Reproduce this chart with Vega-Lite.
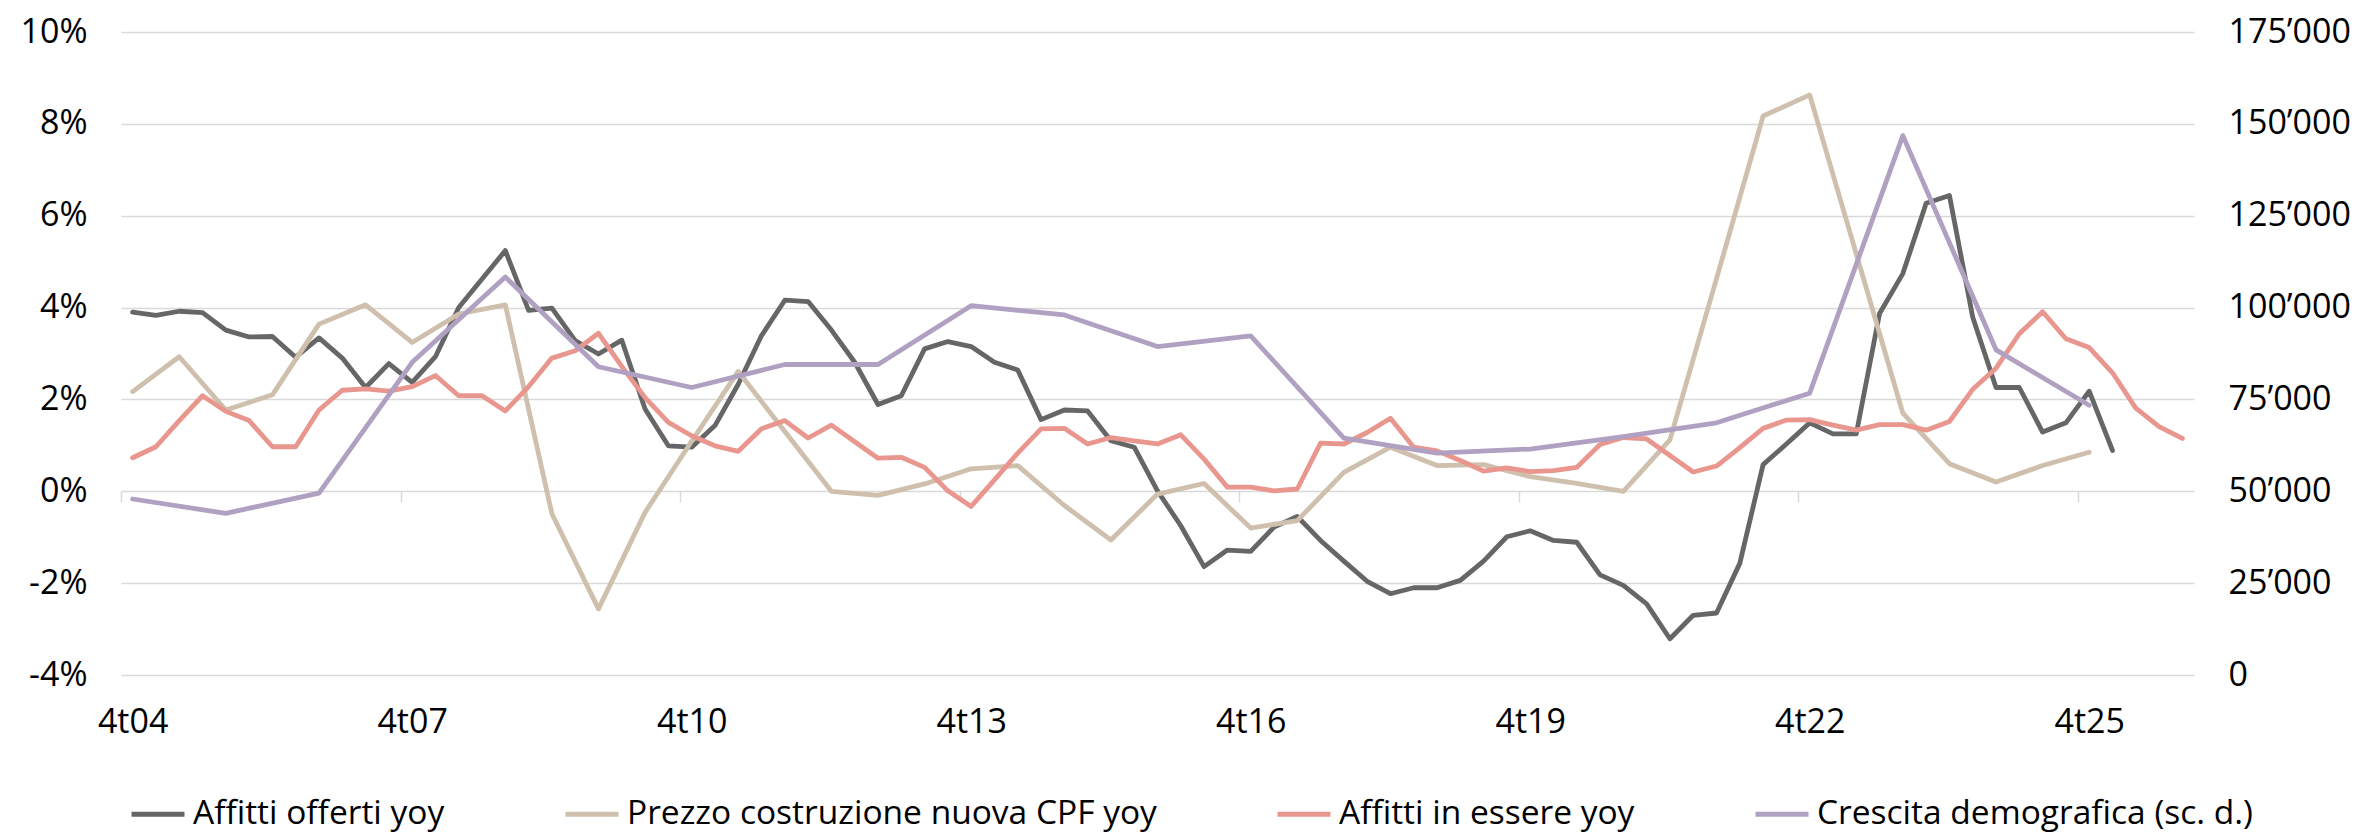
{
  "$schema": "https://vega.github.io/schema/vega-lite/v6.json",
  "width": 2073,
  "height": 643,
  "autosize": {"type": "none"},
  "padding": {"left": 121, "top": 32, "right": 172, "bottom": 162},
  "background": "white",
  "config": {
    "view": {"stroke": null},
    "font": "Open Sans",
    "axis": {"labelFont": "Open Sans", "labelFontSize": 34, "labelColor": "#000000", "titleFont": "Open Sans"},
    "legend": {"labelFont": "Open Sans"}
  },
  "datasets": {
    "left": [
      {"t":"4t04","s":"Affitti offerti yoy","v":3.90},{"t":"1t05","s":"Affitti offerti yoy","v":3.83},{"t":"2t05","s":"Affitti offerti yoy","v":3.92},{"t":"3t05","s":"Affitti offerti yoy","v":3.89},{"t":"4t05","s":"Affitti offerti yoy","v":3.51},
      {"t":"1t06","s":"Affitti offerti yoy","v":3.36},{"t":"2t06","s":"Affitti offerti yoy","v":3.37},{"t":"3t06","s":"Affitti offerti yoy","v":2.92},{"t":"4t06","s":"Affitti offerti yoy","v":3.34},
      {"t":"1t07","s":"Affitti offerti yoy","v":2.90},{"t":"2t07","s":"Affitti offerti yoy","v":2.26},{"t":"3t07","s":"Affitti offerti yoy","v":2.78},{"t":"4t07","s":"Affitti offerti yoy","v":2.37},
      {"t":"1t08","s":"Affitti offerti yoy","v":2.93},{"t":"2t08","s":"Affitti offerti yoy","v":4.00},{"t":"3t08","s":"Affitti offerti yoy","v":4.62},{"t":"4t08","s":"Affitti offerti yoy","v":5.24},
      {"t":"1t09","s":"Affitti offerti yoy","v":3.94},{"t":"2t09","s":"Affitti offerti yoy","v":3.99},{"t":"3t09","s":"Affitti offerti yoy","v":3.28},{"t":"4t09","s":"Affitti offerti yoy","v":2.99},
      {"t":"1t10","s":"Affitti offerti yoy","v":3.29},{"t":"2t10","s":"Affitti offerti yoy","v":1.79},{"t":"3t10","s":"Affitti offerti yoy","v":0.99},{"t":"4t10","s":"Affitti offerti yoy","v":0.96},
      {"t":"1t11","s":"Affitti offerti yoy","v":1.43},{"t":"2t11","s":"Affitti offerti yoy","v":2.33},{"t":"3t11","s":"Affitti offerti yoy","v":3.39},{"t":"4t11","s":"Affitti offerti yoy","v":4.16},
      {"t":"1t12","s":"Affitti offerti yoy","v":4.13},{"t":"2t12","s":"Affitti offerti yoy","v":3.51},{"t":"3t12","s":"Affitti offerti yoy","v":2.81},{"t":"4t12","s":"Affitti offerti yoy","v":1.89},
      {"t":"1t13","s":"Affitti offerti yoy","v":2.08},{"t":"2t13","s":"Affitti offerti yoy","v":3.10},{"t":"3t13","s":"Affitti offerti yoy","v":3.26},{"t":"4t13","s":"Affitti offerti yoy","v":3.15},
      {"t":"1t14","s":"Affitti offerti yoy","v":2.81},{"t":"2t14","s":"Affitti offerti yoy","v":2.64},{"t":"3t14","s":"Affitti offerti yoy","v":1.56},{"t":"4t14","s":"Affitti offerti yoy","v":1.77},
      {"t":"1t15","s":"Affitti offerti yoy","v":1.75},{"t":"2t15","s":"Affitti offerti yoy","v":1.10},{"t":"3t15","s":"Affitti offerti yoy","v":0.96},{"t":"4t15","s":"Affitti offerti yoy","v":0.01},
      {"t":"1t16","s":"Affitti offerti yoy","v":-0.75},{"t":"2t16","s":"Affitti offerti yoy","v":-1.64},{"t":"3t16","s":"Affitti offerti yoy","v":-1.28},{"t":"4t16","s":"Affitti offerti yoy","v":-1.31},
      {"t":"1t17","s":"Affitti offerti yoy","v":-0.78},{"t":"2t17","s":"Affitti offerti yoy","v":-0.55},{"t":"3t17","s":"Affitti offerti yoy","v":-1.07},{"t":"4t17","s":"Affitti offerti yoy","v":-1.52},
      {"t":"1t18","s":"Affitti offerti yoy","v":-1.96},{"t":"2t18","s":"Affitti offerti yoy","v":-2.23},{"t":"3t18","s":"Affitti offerti yoy","v":-2.10},{"t":"4t18","s":"Affitti offerti yoy","v":-2.10},
      {"t":"1t19","s":"Affitti offerti yoy","v":-1.94},{"t":"2t19","s":"Affitti offerti yoy","v":-1.52},{"t":"3t19","s":"Affitti offerti yoy","v":-0.99},{"t":"4t19","s":"Affitti offerti yoy","v":-0.86},
      {"t":"1t20","s":"Affitti offerti yoy","v":-1.07},{"t":"2t20","s":"Affitti offerti yoy","v":-1.11},{"t":"3t20","s":"Affitti offerti yoy","v":-1.82},{"t":"4t20","s":"Affitti offerti yoy","v":-2.05},
      {"t":"1t21","s":"Affitti offerti yoy","v":-2.45},{"t":"2t21","s":"Affitti offerti yoy","v":-3.21},{"t":"3t21","s":"Affitti offerti yoy","v":-2.70},{"t":"4t21","s":"Affitti offerti yoy","v":-2.65},
      {"t":"1t22","s":"Affitti offerti yoy","v":-1.57},{"t":"2t22","s":"Affitti offerti yoy","v":0.58},{"t":"3t22","s":"Affitti offerti yoy","v":1.03},{"t":"4t22","s":"Affitti offerti yoy","v":1.49},
      {"t":"1t23","s":"Affitti offerti yoy","v":1.25},{"t":"2t23","s":"Affitti offerti yoy","v":1.25},{"t":"3t23","s":"Affitti offerti yoy","v":3.87},{"t":"4t23","s":"Affitti offerti yoy","v":4.74},
      {"t":"1t24","s":"Affitti offerti yoy","v":6.27},{"t":"2t24","s":"Affitti offerti yoy","v":6.44},{"t":"3t24","s":"Affitti offerti yoy","v":3.79},{"t":"4t24","s":"Affitti offerti yoy","v":2.26},
      {"t":"1t25","s":"Affitti offerti yoy","v":2.26},{"t":"2t25","s":"Affitti offerti yoy","v":1.29},{"t":"3t25","s":"Affitti offerti yoy","v":1.49},{"t":"4t25","s":"Affitti offerti yoy","v":2.18},
      {"t":"1t26","s":"Affitti offerti yoy","v":0.89},

      {"t":"4t04","s":"Prezzo costruzione nuova CPF yoy","v":2.17},{"t":"2t05","s":"Prezzo costruzione nuova CPF yoy","v":2.93},{"t":"4t05","s":"Prezzo costruzione nuova CPF yoy","v":1.77},
      {"t":"2t06","s":"Prezzo costruzione nuova CPF yoy","v":2.10},{"t":"4t06","s":"Prezzo costruzione nuova CPF yoy","v":3.64},{"t":"2t07","s":"Prezzo costruzione nuova CPF yoy","v":4.06},
      {"t":"4t07","s":"Prezzo costruzione nuova CPF yoy","v":3.24},{"t":"2t08","s":"Prezzo costruzione nuova CPF yoy","v":3.86},{"t":"4t08","s":"Prezzo costruzione nuova CPF yoy","v":4.06},
      {"t":"2t09","s":"Prezzo costruzione nuova CPF yoy","v":-0.49},{"t":"4t09","s":"Prezzo costruzione nuova CPF yoy","v":-2.56},{"t":"2t10","s":"Prezzo costruzione nuova CPF yoy","v":-0.46},
      {"t":"4t10","s":"Prezzo costruzione nuova CPF yoy","v":1.09},{"t":"2t11","s":"Prezzo costruzione nuova CPF yoy","v":2.61},{"t":"4t11","s":"Prezzo costruzione nuova CPF yoy","v":1.30},
      {"t":"2t12","s":"Prezzo costruzione nuova CPF yoy","v":0.00},{"t":"4t12","s":"Prezzo costruzione nuova CPF yoy","v":-0.09},{"t":"2t13","s":"Prezzo costruzione nuova CPF yoy","v":0.16},
      {"t":"4t13","s":"Prezzo costruzione nuova CPF yoy","v":0.49},{"t":"2t14","s":"Prezzo costruzione nuova CPF yoy","v":0.56},{"t":"4t14","s":"Prezzo costruzione nuova CPF yoy","v":-0.31},
      {"t":"2t15","s":"Prezzo costruzione nuova CPF yoy","v":-1.06},{"t":"4t15","s":"Prezzo costruzione nuova CPF yoy","v":-0.06},{"t":"2t16","s":"Prezzo costruzione nuova CPF yoy","v":0.17},
      {"t":"4t16","s":"Prezzo costruzione nuova CPF yoy","v":-0.80},{"t":"2t17","s":"Prezzo costruzione nuova CPF yoy","v":-0.64},{"t":"4t17","s":"Prezzo costruzione nuova CPF yoy","v":0.41},
      {"t":"2t18","s":"Prezzo costruzione nuova CPF yoy","v":0.96},{"t":"4t18","s":"Prezzo costruzione nuova CPF yoy","v":0.56},{"t":"2t19","s":"Prezzo costruzione nuova CPF yoy","v":0.58},
      {"t":"4t19","s":"Prezzo costruzione nuova CPF yoy","v":0.32},{"t":"2t20","s":"Prezzo costruzione nuova CPF yoy","v":0.17},{"t":"4t20","s":"Prezzo costruzione nuova CPF yoy","v":0.00},
      {"t":"2t21","s":"Prezzo costruzione nuova CPF yoy","v":1.12},{"t":"4t21","s":"Prezzo costruzione nuova CPF yoy","v":4.63},{"t":"2t22","s":"Prezzo costruzione nuova CPF yoy","v":8.17},
      {"t":"4t22","s":"Prezzo costruzione nuova CPF yoy","v":8.63},{"t":"2t23","s":"Prezzo costruzione nuova CPF yoy","v":5.17},{"t":"4t23","s":"Prezzo costruzione nuova CPF yoy","v":1.70},
      {"t":"2t24","s":"Prezzo costruzione nuova CPF yoy","v":0.60},{"t":"4t24","s":"Prezzo costruzione nuova CPF yoy","v":0.20},{"t":"2t25","s":"Prezzo costruzione nuova CPF yoy","v":0.56},
      {"t":"4t25","s":"Prezzo costruzione nuova CPF yoy","v":0.85},

      {"t":"4t04","s":"Affitti in essere yoy","v":0.73},{"t":"1t05","s":"Affitti in essere yoy","v":0.97},{"t":"2t05","s":"Affitti in essere yoy","v":1.54},{"t":"3t05","s":"Affitti in essere yoy","v":2.08},{"t":"4t05","s":"Affitti in essere yoy","v":1.74},
      {"t":"1t06","s":"Affitti in essere yoy","v":1.54},{"t":"2t06","s":"Affitti in essere yoy","v":0.97},{"t":"3t06","s":"Affitti in essere yoy","v":0.97},{"t":"4t06","s":"Affitti in essere yoy","v":1.77},
      {"t":"1t07","s":"Affitti in essere yoy","v":2.20},{"t":"2t07","s":"Affitti in essere yoy","v":2.23},{"t":"3t07","s":"Affitti in essere yoy","v":2.18},{"t":"4t07","s":"Affitti in essere yoy","v":2.28},
      {"t":"1t08","s":"Affitti in essere yoy","v":2.52},{"t":"2t08","s":"Affitti in essere yoy","v":2.08},{"t":"3t08","s":"Affitti in essere yoy","v":2.08},{"t":"4t08","s":"Affitti in essere yoy","v":1.75},
      {"t":"1t09","s":"Affitti in essere yoy","v":2.28},{"t":"2t09","s":"Affitti in essere yoy","v":2.90},{"t":"3t09","s":"Affitti in essere yoy","v":3.06},{"t":"4t09","s":"Affitti in essere yoy","v":3.44},
      {"t":"1t10","s":"Affitti in essere yoy","v":2.72},{"t":"2t10","s":"Affitti in essere yoy","v":2.04},{"t":"3t10","s":"Affitti in essere yoy","v":1.50},{"t":"4t10","s":"Affitti in essere yoy","v":1.21},
      {"t":"1t11","s":"Affitti in essere yoy","v":0.99},{"t":"2t11","s":"Affitti in essere yoy","v":0.87},{"t":"3t11","s":"Affitti in essere yoy","v":1.36},{"t":"4t11","s":"Affitti in essere yoy","v":1.54},
      {"t":"1t12","s":"Affitti in essere yoy","v":1.16},{"t":"2t12","s":"Affitti in essere yoy","v":1.44},{"t":"3t12","s":"Affitti in essere yoy","v":1.08},{"t":"4t12","s":"Affitti in essere yoy","v":0.72},
      {"t":"1t13","s":"Affitti in essere yoy","v":0.74},{"t":"2t13","s":"Affitti in essere yoy","v":0.52},{"t":"3t13","s":"Affitti in essere yoy","v":0.01},{"t":"4t13","s":"Affitti in essere yoy","v":-0.33},
      {"t":"1t14","s":"Affitti in essere yoy","v":0.25},{"t":"2t14","s":"Affitti in essere yoy","v":0.83},{"t":"3t14","s":"Affitti in essere yoy","v":1.36},{"t":"4t14","s":"Affitti in essere yoy","v":1.37},
      {"t":"1t15","s":"Affitti in essere yoy","v":1.03},{"t":"2t15","s":"Affitti in essere yoy","v":1.17},{"t":"3t15","s":"Affitti in essere yoy","v":1.10},{"t":"4t15","s":"Affitti in essere yoy","v":1.03},
      {"t":"1t16","s":"Affitti in essere yoy","v":1.23},{"t":"2t16","s":"Affitti in essere yoy","v":0.70},{"t":"3t16","s":"Affitti in essere yoy","v":0.09},{"t":"4t16","s":"Affitti in essere yoy","v":0.09},
      {"t":"1t17","s":"Affitti in essere yoy","v":0.01},{"t":"2t17","s":"Affitti in essere yoy","v":0.05},{"t":"3t17","s":"Affitti in essere yoy","v":1.05},{"t":"4t17","s":"Affitti in essere yoy","v":1.03},
      {"t":"1t18","s":"Affitti in essere yoy","v":1.28},{"t":"2t18","s":"Affitti in essere yoy","v":1.59},{"t":"3t18","s":"Affitti in essere yoy","v":0.96},{"t":"4t18","s":"Affitti in essere yoy","v":0.88},
      {"t":"1t19","s":"Affitti in essere yoy","v":0.67},{"t":"2t19","s":"Affitti in essere yoy","v":0.44},{"t":"3t19","s":"Affitti in essere yoy","v":0.51},{"t":"4t19","s":"Affitti in essere yoy","v":0.43},
      {"t":"1t20","s":"Affitti in essere yoy","v":0.45},{"t":"2t20","s":"Affitti in essere yoy","v":0.52},{"t":"3t20","s":"Affitti in essere yoy","v":1.02},{"t":"4t20","s":"Affitti in essere yoy","v":1.17},
      {"t":"1t21","s":"Affitti in essere yoy","v":1.14},{"t":"2t21","s":"Affitti in essere yoy","v":0.78},{"t":"3t21","s":"Affitti in essere yoy","v":0.42},{"t":"4t21","s":"Affitti in essere yoy","v":0.55},
      {"t":"1t22","s":"Affitti in essere yoy","v":0.95},{"t":"2t22","s":"Affitti in essere yoy","v":1.37},{"t":"3t22","s":"Affitti in essere yoy","v":1.55},{"t":"4t22","s":"Affitti in essere yoy","v":1.56},
      {"t":"1t23","s":"Affitti in essere yoy","v":1.44},{"t":"2t23","s":"Affitti in essere yoy","v":1.33},{"t":"3t23","s":"Affitti in essere yoy","v":1.45},{"t":"4t23","s":"Affitti in essere yoy","v":1.45},
      {"t":"1t24","s":"Affitti in essere yoy","v":1.33},{"t":"2t24","s":"Affitti in essere yoy","v":1.52},{"t":"3t24","s":"Affitti in essere yoy","v":2.22},{"t":"4t24","s":"Affitti in essere yoy","v":2.68},
      {"t":"1t25","s":"Affitti in essere yoy","v":3.43},{"t":"2t25","s":"Affitti in essere yoy","v":3.91},{"t":"3t25","s":"Affitti in essere yoy","v":3.32},{"t":"4t25","s":"Affitti in essere yoy","v":3.13},
      {"t":"1t26","s":"Affitti in essere yoy","v":2.58},{"t":"2t26","s":"Affitti in essere yoy","v":1.81},{"t":"3t26","s":"Affitti in essere yoy","v":1.41},{"t":"4t26","s":"Affitti in essere yoy","v":1.15}
    ],
    "pop": [
      {"t":"4t04","s":"Crescita demografica (sc. d.)","p":47900},{"t":"4t05","s":"Crescita demografica (sc. d.)","p":44000},{"t":"4t06","s":"Crescita demografica (sc. d.)","p":49500},
      {"t":"4t07","s":"Crescita demografica (sc. d.)","p":85100},{"t":"4t08","s":"Crescita demografica (sc. d.)","p":108300},{"t":"4t09","s":"Crescita demografica (sc. d.)","p":83900},
      {"t":"4t10","s":"Crescita demografica (sc. d.)","p":78250},{"t":"4t11","s":"Crescita demografica (sc. d.)","p":84500},{"t":"4t12","s":"Crescita demografica (sc. d.)","p":84500},
      {"t":"4t13","s":"Crescita demografica (sc. d.)","p":100500},{"t":"4t14","s":"Crescita demografica (sc. d.)","p":98000},{"t":"4t15","s":"Crescita demografica (sc. d.)","p":89400},
      {"t":"4t16","s":"Crescita demografica (sc. d.)","p":92300},{"t":"4t17","s":"Crescita demografica (sc. d.)","p":64500},{"t":"4t18","s":"Crescita demografica (sc. d.)","p":60400},
      {"t":"4t19","s":"Crescita demografica (sc. d.)","p":61500},{"t":"4t20","s":"Crescita demografica (sc. d.)","p":64900},{"t":"4t21","s":"Crescita demografica (sc. d.)","p":68650},
      {"t":"4t22","s":"Crescita demografica (sc. d.)","p":76700},{"t":"4t23","s":"Crescita demografica (sc. d.)","p":146800},{"t":"4t24","s":"Crescita demografica (sc. d.)","p":88500},
      {"t":"4t25","s":"Crescita demografica (sc. d.)","p":73400}
    ]
  },
  "layer": [
    {
      "data": {"name": "left"},
      "mark": {"type": "line", "strokeWidth": 4.8, "strokeJoin": "round", "strokeCap": "round"},
      "encoding": {
        "x": {
          "field": "t", "type": "ordinal",
          "scale": {"type": "point", "padding": 0.5, "domain": ["4t04","1t05","2t05","3t05","4t05","1t06","2t06","3t06","4t06","1t07","2t07","3t07","4t07","1t08","2t08","3t08","4t08","1t09","2t09","3t09","4t09","1t10","2t10","3t10","4t10","1t11","2t11","3t11","4t11","1t12","2t12","3t12","4t12","1t13","2t13","3t13","4t13","1t14","2t14","3t14","4t14","1t15","2t15","3t15","4t15","1t16","2t16","3t16","4t16","1t17","2t17","3t17","4t17","1t18","2t18","3t18","4t18","1t19","2t19","3t19","4t19","1t20","2t20","3t20","4t20","1t21","2t21","3t21","4t21","1t22","2t22","3t22","4t22","1t23","2t23","3t23","4t23","1t24","2t24","3t24","4t24","1t25","2t25","3t25","4t25","1t26","2t26","3t26","4t26"]},
          "axis": {"orient": "bottom", "offset": -184, "values": ["4t04","4t07","4t10","4t13","4t16","4t19","4t22","4t25"], "labels": false, "ticks": true, "tickSize": 11, "tickColor": "#d9d9d9", "tickWidth": 1.5, "tickOffset": -11.65, "domain": false, "grid": false, "title": null}
        },
        "y": {
          "field": "v", "type": "quantitative",
          "scale": {"domain": [-4, 10], "nice": false, "zero": false},
          "axis": {"orient": "left", "values": [-4,-2,0,2,4,6,8,10], "labelExpr": "datum.value + '%'", "grid": true, "gridColor": "#d9d9d9", "gridWidth": 1.5, "domain": false, "ticks": false, "tickSize": 0, "labelPadding": 34, "title": null}
        },
        "color": {
          "field": "s", "type": "nominal",
          "scale": {"domain": ["Affitti offerti yoy","Prezzo costruzione nuova CPF yoy","Affitti in essere yoy","Crescita demografica (sc. d.)"], "range": ["#666666","#CFBFAD","#E8968E","#B0A0C1"]},
          "legend": {"orient": "none", "legendX": 8, "legendY": 753, "direction": "horizontal", "columns": 4, "title": null, "symbolType": "stroke", "symbolSize": 2809, "symbolStrokeWidth": 5, "labelFontSize": 33.5, "labelColor": "#000000", "labelLimit": 900, "columnPadding": 110, "labelOffset": 6, "padding": 0}
        },
        "order": {"value": null}
      }
    },
    {
      "data": {"name": "pop"},
      "mark": {"type": "line", "strokeWidth": 4.8, "strokeJoin": "round", "strokeCap": "round"},
      "encoding": {
        "x": {
          "field": "t", "type": "ordinal",
          "scale": {"type": "point", "padding": 0.5, "domain": ["4t04","1t05","2t05","3t05","4t05","1t06","2t06","3t06","4t06","1t07","2t07","3t07","4t07","1t08","2t08","3t08","4t08","1t09","2t09","3t09","4t09","1t10","2t10","3t10","4t10","1t11","2t11","3t11","4t11","1t12","2t12","3t12","4t12","1t13","2t13","3t13","4t13","1t14","2t14","3t14","4t14","1t15","2t15","3t15","4t15","1t16","2t16","3t16","4t16","1t17","2t17","3t17","4t17","1t18","2t18","3t18","4t18","1t19","2t19","3t19","4t19","1t20","2t20","3t20","4t20","1t21","2t21","3t21","4t21","1t22","2t22","3t22","4t22","1t23","2t23","3t23","4t23","1t24","2t24","3t24","4t24","1t25","2t25","3t25","4t25","1t26","2t26","3t26","4t26"]},
          "axis": {"orient": "bottom", "values": ["4t04","4t07","4t10","4t13","4t16","4t19","4t22","4t25"], "labels": true, "labelAngle": 0, "ticks": false, "tickSize": 0, "domain": false, "grid": false, "labelPadding": 30, "title": null}
        },
        "y": {
          "field": "p", "type": "quantitative",
          "scale": {"domain": [0, 175000], "nice": false, "zero": false},
          "axis": {"orient": "right", "values": [0,25000,50000,75000,100000,125000,150000,175000], "labelExpr": "replace(format(datum.value, ','), ',', '’')", "grid": false, "domain": false, "ticks": false, "tickSize": 0, "labelPadding": 34, "title": null}
        },
        "color": {
          "field": "s", "type": "nominal",
          "scale": {"domain": ["Affitti offerti yoy","Prezzo costruzione nuova CPF yoy","Affitti in essere yoy","Crescita demografica (sc. d.)"], "range": ["#666666","#CFBFAD","#E8968E","#B0A0C1"]},
          "legend": {"orient": "none", "legendX": 8, "legendY": 753, "direction": "horizontal", "columns": 4, "title": null, "symbolType": "stroke", "symbolSize": 2809, "symbolStrokeWidth": 5, "labelFontSize": 33.5, "labelColor": "#000000", "labelLimit": 900, "columnPadding": 110, "labelOffset": 6, "padding": 0}
        },
        "order": {"value": null}
      }
    }
  ],
  "resolve": {"scale": {"y": "independent"}, "axis": {"x": "independent"}}
}
